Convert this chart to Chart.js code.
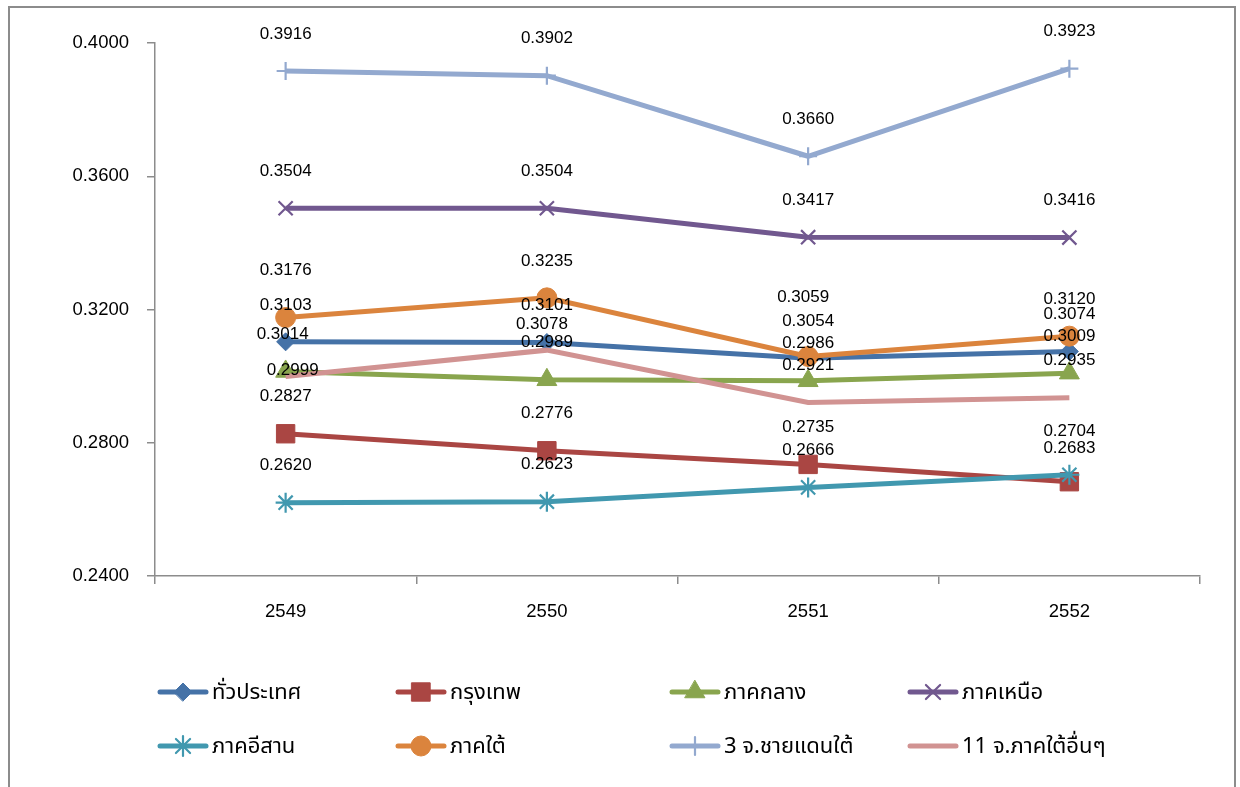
<!DOCTYPE html>
<html>
<head>
<meta charset="utf-8">
<script src="https://cdn.jsdelivr.net/npm/chart.js@4.4.0/dist/chart.umd.min.js"></script>
<style>
	body { margin: 0; background: #fff; }
	#wrap { position: relative; width: 1240px; height: 787px; overflow: hidden; }
	#frame {
		position: absolute; left: 8px; top: 6px; width: 1228px; height: 820px;
		border: 2px solid #8c8c8c; box-sizing: border-box;
	}
	#chart { position: absolute; left: 0; top: 0; }
	.lg-item {
		position: absolute; display: flex; align-items: center; height: 30px;
		font-family: "Noto Sans Thai", Tahoma, "Liberation Sans", sans-serif;
		font-size: 22px; color: #000; white-space: nowrap;
	}
	.lg-item canvas { margin-right: 3px; }
</style>
</head>
<body>
<div id="wrap">
	<div id="frame"></div>
	<canvas id="chart" width="1240" height="787"></canvas>
	<div id="legend"></div>
</div>
<script>
	// data
	const years = ['2549', '2550', '2551', '2552'];
	const seriesNames = ['ทั่วประเทศ', 'กรุงเทพ', 'ภาคกลาง', 'ภาคเหนือ', 'ภาคอีสาน', 'ภาคใต้', '3 จ.ชายแดนใต้', '11 จ.ภาคใต้อื่นๆ'];
	const wholeCountry = [0.3103, 0.3101, 0.3054, 0.3074];
	const bangkok = [0.2827, 0.2776, 0.2735, 0.2683];
	const central = [0.3014, 0.2989, 0.2986, 0.3009];
	const north = [0.3504, 0.3504, 0.3417, 0.3416];
	const northeast = [0.2620, 0.2623, 0.2666, 0.2704];
	const south = [0.3176, 0.3235, 0.3059, 0.3120];
	const borderSouth = [0.3916, 0.3902, 0.3660, 0.3923];
	const otherSouth = [0.2999, 0.3078, 0.2921, 0.2935];
	const yTicks = [0.24, 0.28, 0.32, 0.36, 0.40];

	// styles
	const colors = ['#4572a7', '#aa4643', '#89a54e', '#71588f', '#4198af', '#db843d', '#93a9cf', '#d19392'];
	const markers = ['rectRot', 'rect', 'triangle', 'crossRot', 'star', 'circle', 'cross', false];
	const markerRadius = [9, 13, 11.5, 10, 10, 10, 9, 0];
	const markerBorder = [1, 1, 1, 2.2, 2.2, 1, 2.2, 0];
	// label nudges [dx, dy] per series per year (pixels)
	const labelNudge = [
		[[0, 0], [0, 0], [0, 0], [0, 0]],
		[[0, 0], [0, 0], [0, 0], [0, 4]],
		[[-3, 0], [0, 0], [0, 0], [0, 0]],
		[[0, 0], [0, 0], [0, 0], [0, 0]],
		[[0, 0], [0, 0], [0, 0], [0, -6]],
		[[0, -10], [0, 0], [-5, -22], [0, 0]],
		[[0, 0], [0, 0], [0, 0], [0, 0]],
		[[7, 31], [-5, 11], [0, 0], [0, 0]]
	];
	const legendPos = [[157, 692], [395, 692], [669, 692], [907, 692], [157, 746], [395, 746], [669, 746], [907, 746]];

	const seriesValues = [wholeCountry, bangkok, central, north, northeast, south, borderSouth, otherSouth];
	const axisGray = '#8c8c8c';
	const numFont = { family: '"Liberation Sans", Arial, sans-serif', size: 18.5 };

	const datasets = seriesValues.map((vals, i) => ({
		label: seriesNames[i],
		data: vals,
		borderColor: colors[i],
		backgroundColor: colors[i],
		borderWidth: 5,
		tension: 0,
		fill: false,
		pointStyle: markers[i],
		pointRadius: markerRadius[i],
		pointHoverRadius: markerRadius[i],
		pointBorderWidth: markerBorder[i],
		pointBackgroundColor: colors[i],
		pointBorderColor: colors[i],
		order: seriesValues.length - i
	}));

	const valueLabels = {
		id: 'valueLabels',
		afterDatasetsDraw(chart) {
			const ctx = chart.ctx;
			ctx.save();
			ctx.font = '17px "Liberation Sans", Arial, sans-serif';
			ctx.fillStyle = '#000';
			ctx.textAlign = 'center';
			ctx.textBaseline = 'middle';
			chart.data.datasets.forEach((ds, i) => {
				const meta = chart.getDatasetMeta(i);
				meta.data.forEach((pt, j) => {
					const n = labelNudge[i][j];
					ctx.fillText(ds.data[j].toFixed(4), pt.x + n[0], pt.y - 37 + n[1]);
				});
			});
			ctx.restore();
		}
	};

	new Chart(document.getElementById('chart'), {
		type: 'line',
		data: { labels: years, datasets: datasets },
		options: {
			responsive: false,
			animation: false,
			events: [],
			layout: { padding: { left: 0, top: 43, right: 40, bottom: 0 } },
			plugins: { legend: { display: false }, tooltip: { enabled: false } },
			scales: {
				x: {
					offset: true,
					grid: { display: true, offset: true, drawOnChartArea: false, tickLength: 8, color: axisGray, lineWidth: 1.5 },
					border: { color: axisGray, width: 1.5 },
					ticks: { color: '#000', font: numFont, padding: 17 },
					afterFit(scale) { scale.height = 211; }
				},
				y: {
					min: 0.24,
					max: 0.40,
					afterBuildTicks(scale) { scale.ticks = yTicks.map(v => ({ value: v })); },
					grid: { display: true, drawOnChartArea: false, tickLength: 8, color: axisGray, lineWidth: 1.5 },
					border: { color: axisGray, width: 1.5 },
					ticks: { color: '#000', font: numFont, padding: 18, callback: v => v.toFixed(4) },
					afterFit(scale) { scale.width = 155; }
				}
			}
		},
		plugins: [valueLabels]
	});

	// legend: line sample with marker, then the name
	const legend = document.getElementById('legend');
	seriesNames.forEach((name, i) => {
		const item = document.createElement('div');
		item.className = 'lg-item';
		item.style.left = legendPos[i][0] + 'px';
		item.style.top = (legendPos[i][1] - 15) + 'px';
		const c = document.createElement('canvas');
		c.width = 52; c.height = 30;
		const ctx = c.getContext('2d');
		ctx.strokeStyle = colors[i];
		ctx.lineWidth = 5;
		ctx.lineCap = 'round';
		ctx.beginPath();
		ctx.moveTo(3, 15); ctx.lineTo(49, 15);
		ctx.stroke();
		if (markers[i]) {
			ctx.fillStyle = colors[i];
			ctx.lineWidth = markerBorder[i];
			Chart.helpers.drawPoint(ctx, { pointStyle: markers[i], radius: markerRadius[i], borderWidth: markerBorder[i], rotation: 0 }, 26, 15);
		}
		item.appendChild(c);
		const s = document.createElement('span');
		s.textContent = name;
		item.appendChild(s);
		legend.appendChild(item);
	});
</script>
</body>
</html>
